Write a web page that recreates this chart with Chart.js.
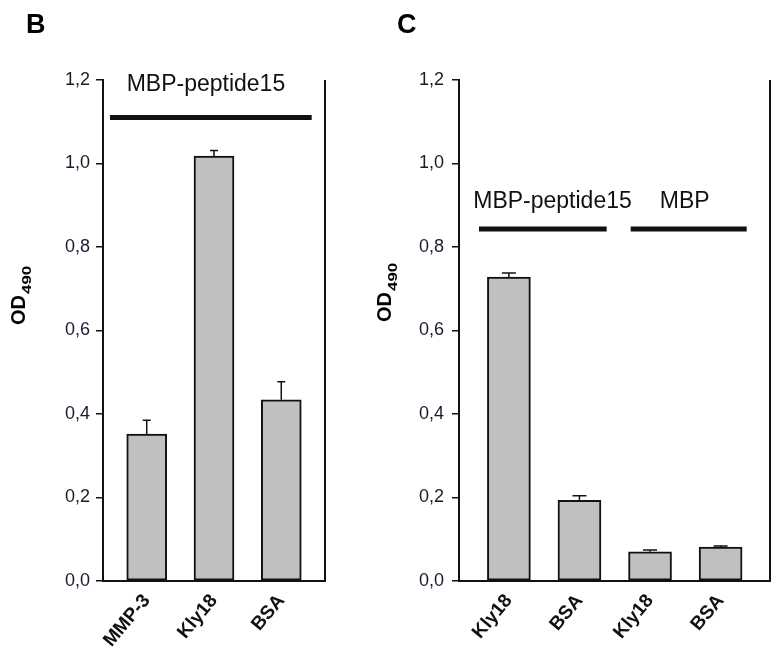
<!DOCTYPE html>
<html>
<head>
<meta charset="utf-8">
<script src="https://cdn.jsdelivr.net/npm/chart.js@4"></script>
<style>
  body { margin: 0; background: #fff; width: 778px; height: 664px; position: relative; overflow: hidden; }
  #chartB { position: absolute; left: 0; top: 0; }
  #chartC { position: absolute; left: 370px; top: 0; }
</style>
</head>
<body>
<canvas id="chartB" width="370" height="664"></canvas>
<canvas id="chartC" width="408" height="664"></canvas>
<script>
// values (OD490)
const yTicks = [0, 0.2, 0.4, 0.6, 0.8, 1.0, 1.2];

const catsB = ['MMP-3', 'Kly18', 'BSA'];
const valsB = [0.352, 1.018, 0.434];
const errB = [0.033, 0.013, 0.043];
const groupsB = ['MBP-peptide15'];

const catsC = ['Kly18', 'BSA', 'Kly18', 'BSA'];
const valsC = [0.728, 0.193, 0.070, 0.081];
const errC = [0.010, 0.011, 0.004, 0.003];
const groupsC = ['MBP-peptide15', 'MBP'];

const FONT = "Arial, 'Liberation Sans', sans-serif";
const INK = '#111';

// right frame, error bars, group bars, panel letter, axis title
const panelDecor = {
  id: 'panelDecor',
  afterDatasetsDraw(chart, args, o) {
    const { ctx, chartArea: a, scales: { x, y } } = chart;
    ctx.save();
    ctx.strokeStyle = INK;
    ctx.lineWidth = 2;
    ctx.beginPath();
    ctx.moveTo(a.right, a.top);
    ctx.lineTo(a.right, a.bottom + 1);
    ctx.stroke();

    const meta = chart.getDatasetMeta(0);
    ctx.lineWidth = 1.5;
    o.errors.forEach((e, i) => {
      const bar = meta.data[i];
      const top = y.getPixelForValue(o.values[i] + e);
      ctx.beginPath();
      ctx.moveTo(bar.x, bar.y);
      ctx.lineTo(bar.x, top);
      ctx.moveTo(bar.x - o.cap, top);
      ctx.lineTo(bar.x + o.cap, top);
      ctx.stroke();
    });

    ctx.lineWidth = 5;
    ctx.lineCap = 'butt';
    ctx.fillStyle = INK;
    ctx.font = '23px ' + FONT;
    ctx.textAlign = 'center';
    ctx.textBaseline = 'alphabetic';
    o.groups.forEach((g, i) => {
      const span = o.spans[i];
      const ly = y.getPixelForValue(o.lineY);
      ctx.beginPath();
      ctx.moveTo(x.getPixelForValue(span[0]), ly);
      ctx.lineTo(x.getPixelForValue(span[1]), ly);
      ctx.stroke();
      ctx.fillText(g, x.getPixelForValue(o.textX[i]), y.getPixelForValue(o.textY));
    });
    ctx.restore();
  },
  afterDraw(chart, args, o) {
    const ctx = chart.ctx;
    ctx.save();
    ctx.fillStyle = '#000';
    ctx.font = 'bold 27px ' + FONT;
    ctx.textAlign = 'left';
    ctx.textBaseline = 'alphabetic';
    ctx.fillText(o.letter, o.letterPos[0], o.letterPos[1]);

    // OD with subscript 490, rotated
    ctx.translate(o.titlePos[0], o.titlePos[1]);
    ctx.rotate(-Math.PI / 2);
    ctx.font = 'bold 20px ' + FONT;
    ctx.fillText('OD', 0, 7);
    const w = ctx.measureText('OD').width;
    ctx.font = 'bold 13px ' + FONT;
    ctx.save();
    ctx.translate(w + 1, 13);
    ctx.scale(1.3, 1);
    ctx.fillText('490', 0, 0);
    ctx.restore();
    ctx.restore();
  }
};

function makeChart(id, cats, vals, errs, groups, cfg) {
  return new Chart(document.getElementById(id), {
    type: 'bar',
    data: {
      datasets: [{
        data: vals.map((v, i) => ({ x: i, y: v })),
        backgroundColor: '#c0c0c0',
        borderColor: INK,
        borderWidth: 2,
        borderSkipped: false,
        barThickness: cfg.barWidth
      }]
    },
    options: {
      responsive: false,
      animation: false,
      layout: { padding: { top: 80, left: 0, right: cfg.padRight, bottom: 0 } },
      plugins: {
        legend: { display: false },
        tooltip: { enabled: false },
        panelDecor: {
          values: vals, errors: errs, cap: cfg.cap,
          groups: groups, spans: cfg.spans, textX: cfg.textX,
          lineY: cfg.lineY, textY: cfg.textY,
          letter: cfg.letter, letterPos: cfg.letterPos, titlePos: cfg.titlePos
        }
      },
      scales: {
        x: {
          type: 'linear',
          offset: false,
          min: cfg.xMin,
          max: cfg.xMax,
          afterBuildTicks: s => { s.ticks = cats.map((c, i) => ({ value: i })); },
          afterFit: s => { s.height = 83; },
          grid: { display: false, offset: false },
          border: { display: true, color: INK, width: 2 },
          ticks: {
            callback: v => cats[v],
            autoSkip: false,
            minRotation: 50,
            maxRotation: 50,
            padding: 1,
            color: INK,
            font: { family: FONT, size: 19, weight: 'bold' }
          }
        },
        y: {
          min: 0,
          max: 1.2,
          afterBuildTicks: s => { s.ticks = yTicks.map(v => ({ value: v })); },
          afterFit: s => { s.width = cfg.axisLeft; },
          grid: { drawOnChartArea: false, drawTicks: true, tickLength: 7, color: INK, lineWidth: 1.5 },
          border: { color: INK, width: 2 },
          ticks: {
            callback: v => v.toFixed(1).replace('.', ','),
            padding: cfg.tickPad,
            color: '#1a1a2e',
            font: { family: FONT, size: cfg.tickSize }
          }
        }
      }
    },
    plugins: [panelDecor]
  });
}

makeChart('chartB', catsB, valsB, errB, groupsB, {
  xMin: -0.65, xMax: 2.65, barWidth: 40, padRight: 45, axisLeft: 103,
  tickPad: 6, tickSize: 18, cap: 4,
  spans: [[-0.546, 2.452]], textX: [0.88], lineY: 1.11, textY: 1.174,
  letter: 'B', letterPos: [26, 33], titlePos: [18, 325]
});

makeChart('chartC', catsC, valsC, errC, groupsC, {
  xMin: -0.707, xMax: 3.7, barWidth: 43, padRight: 8, axisLeft: 89,
  tickPad: 8, tickSize: 18, cap: 7,
  spans: [[-0.424, 1.386], [1.726, 3.37]], textX: [0.618, 2.491], lineY: 0.843, textY: 0.893,
  letter: 'C', letterPos: [27, 33], titlePos: [14, 322]
});
</script>
</body>
</html>
